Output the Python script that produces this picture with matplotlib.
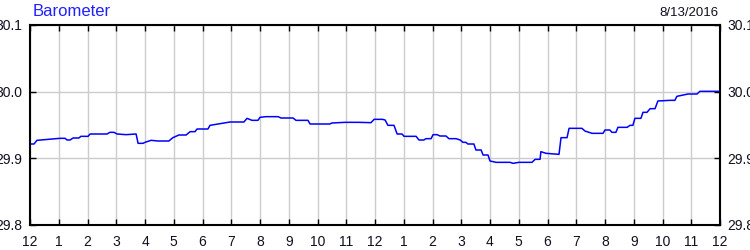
import matplotlib
matplotlib.use("Agg")
import matplotlib.pyplot as plt

# Data (hours since midnight, pressure inHg)
hours = [0.0, 0.14, 0.24, 1.04, 1.22, 1.29, 1.39, 1.50, 1.70, 1.77, 2.02, 2.09, 2.68, 2.78, 2.92,
         3.03, 3.34, 3.69, 3.76, 3.93, 4.00, 4.21, 4.45, 4.83, 4.97, 5.18, 5.43, 5.57, 5.74, 5.81,
         6.19, 6.26, 6.61, 6.96, 7.44, 7.55, 7.72, 7.93, 8.00, 8.21, 8.63, 8.73, 9.15, 9.25, 9.67,
         9.74, 10.43, 10.50, 10.96, 11.44, 11.86, 11.97, 12.26, 12.35, 12.45, 12.66, 12.77, 12.94,
         13.01, 13.43, 13.53, 13.70, 13.77, 13.95, 14.02, 14.16, 14.26, 14.47, 14.57, 14.82, 14.96,
         15.06, 15.16, 15.23, 15.44, 15.51, 15.69, 15.76, 15.93, 16.00, 16.21, 16.70, 16.80, 17.01,
         17.46, 17.57, 17.74, 17.77, 17.95, 18.40, 18.47, 18.68, 18.75, 19.20, 19.30, 19.55, 19.93,
         20.00, 20.17, 20.24, 20.38, 20.45, 20.77, 20.87, 20.97, 21.04, 21.25, 21.32, 21.46, 21.57,
         21.74, 21.84, 22.26, 22.43, 22.50, 22.89, 23.20, 23.30, 24.0]
pressure = [29.9215, 29.9215, 29.927, 29.930, 29.930, 29.9275, 29.9275, 29.9305, 29.9305, 29.933,
            29.933, 29.9365, 29.9365, 29.939, 29.939, 29.9365, 29.9355, 29.9365, 29.9225, 29.9225,
            29.924, 29.927, 29.926, 29.926, 29.931, 29.935, 29.935, 29.940, 29.940, 29.944,
            29.944, 29.9495, 29.952, 29.9545, 29.9545, 29.960, 29.957, 29.957, 29.9615, 29.9625,
            29.9625, 29.9605, 29.9605, 29.957, 29.957, 29.9515, 29.9515, 29.953, 29.954, 29.954,
            29.9535, 29.9585, 29.9585, 29.9575, 29.9495, 29.9495, 29.9365, 29.9365, 29.933, 29.933,
            29.9275, 29.9275, 29.9295, 29.9295, 29.9355, 29.9355, 29.9335, 29.9335, 29.9295, 29.9295,
            29.9275, 29.924, 29.924, 29.9215, 29.9215, 29.9125, 29.9125, 29.905, 29.905, 29.896,
            29.894, 29.894, 29.8925, 29.894, 29.894, 29.8985, 29.8985, 29.910, 29.9075, 29.906,
            29.931, 29.931, 29.945, 29.945, 29.941, 29.9375, 29.9375, 29.9425, 29.9425, 29.939,
            29.939, 29.9465, 29.9465, 29.9495, 29.9495, 29.960, 29.960, 29.969, 29.969, 29.9745,
            29.9745, 29.986, 29.987, 29.987, 29.993, 29.9965, 29.9965, 30.0005, 30.0005]

tick_hours = list(range(0, 25))
tick_labels = ["12", "1", "2", "3", "4", "5", "6", "7", "8", "9", "10", "11",
               "12", "1", "2", "3", "4", "5", "6", "7", "8", "9", "10", "11", "12"]
y_ticks = [29.8, 29.9, 30.0, 30.1]
y_labels = ["29.8", "29.9", "30.0", "30.1"]
title = "Barometer"
date_text = "8/13/2016"

plt.rcParams['font.family'] = ['Liberation Sans', 'DejaVu Sans']

fig = plt.figure(figsize=(7.5, 2.5), dpi=100)
ax = fig.add_axes([30/750, 25/250, 690/750, 200/250])
ax.plot(hours, pressure, color='#0000ff', linewidth=1.1)
ax.set_xlim(0, 24)
ax.set_ylim(29.8, 30.1)
ax.set_xticks(tick_hours)
ax.set_xticklabels(tick_labels, fontsize=10, color='#101020')
ax.set_yticks(y_ticks)
ax.set_yticklabels(y_labels, fontsize=10, color='#101020')
ax.tick_params(axis='both', direction='in', length=4, width=1, top=True, right=True,
               labelright=True)
ax.tick_params(axis='x', pad=7)
ax.tick_params(axis='y', pad=5.5)
ax.grid(True, color='#cccccc', linewidth=1)
ax.set_axisbelow(True)
for s in ax.spines.values():
    s.set_linewidth(1.5)
    s.set_color('black')

fig.text(33/750, 1 - 12/250, title, color='#2020ff', fontsize=12, va='center', ha='left')
fig.text(718/750, 1 - 13/250, date_text, color='#101020', fontsize=9.5, va='center', ha='right')

fig.savefig("out.png", dpi=100)
